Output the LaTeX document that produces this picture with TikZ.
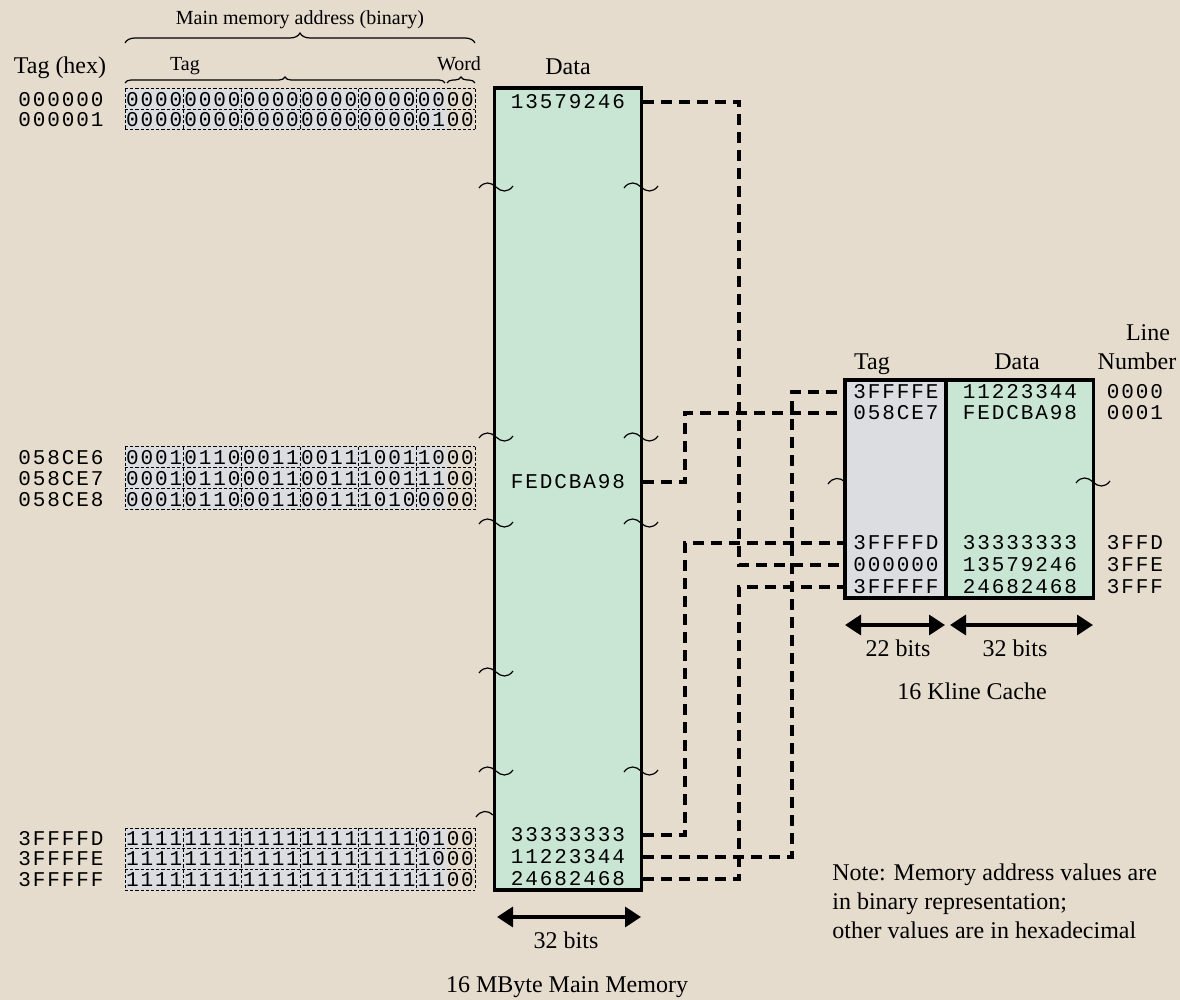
\documentclass[tikz,border=0pt]{standalone}
\usepackage{fontspec}
\setmainfont{Liberation Serif}
\newfontfamily\monof[LetterSpace=9]{Liberation Mono}
\usetikzlibrary{arrows.meta,decorations.pathreplacing,calc}
\definecolor{bgbeige}{RGB}{229,220,206}
\definecolor{memgreen}{RGB}{201,230,213}
\definecolor{taggray}{RGB}{220,221,224}
\newcommand{\tld}[2]{\draw[brk] (#1-17,#2+1) .. controls (#1-12,#2-6) and (#1-5,#2-5) .. (#1,#2) .. controls (#1+5,#2+5) and (#1+12,#2+6) .. (#1+17,#2-1);}
\newcommand{\tldh}[2]{\draw[brk] (#1-17,#2+2) .. controls (#1-12,#2-5) and (#1-5,#2-5) .. (#1,#2);}
\newcommand{\binblock}[3]{% top, row height, rows
  \fill[taggray] (125,#1) rectangle (446.7,#1+#2*#3);
  \foreach \r in {0,...,#3} {\draw[cell] (125,#1+#2*\r) -- (475,#1+#2*\r);}
  \foreach \k in {0,...,6} {\draw[cell] (125+58.333*\k,#1) -- (125+58.333*\k,#1+#2*#3);}
}
\newcommand{\binrow}[4]{% name, y, hex, groups
  \node[mono, anchor=west] (#1-hex) at (18,#2) {#3};
  \foreach \g [count=\i] in {#4} {\node[mono] (#1-\i) at (125+58.333*\i-29.167,#2) {\g};}
}
\begin{document}
\begin{tikzpicture}[x=0.5pt,y=-0.5pt,
  mono/.style={font=\monof\fontsize{10.5pt}{12pt}\selectfont, inner sep=0pt},
  lbl/.style={font=\fontsize{12pt}{14pt}\selectfont, inner sep=0pt, anchor=base},
  slbl/.style={font=\fontsize{10pt}{12pt}\selectfont, inner sep=0pt, anchor=base},
  boxline/.style={draw=black, line width=1.6pt, inner sep=0pt},
  conn/.style={draw=black, line width=2pt, dash pattern=on 5.5pt off 3.5pt},
  cell/.style={draw=black, line width=0.5pt, dash pattern=on 1.6pt off 1pt},
  dimarrow/.style={draw=black, line width=1.7pt, {Triangle[length=8pt,width=10pt]}-{Triangle[length=8pt,width=10pt]}},
  brk/.style={draw=black, line width=0.6pt},
  brc/.style={draw=black, line width=0.6pt, decorate, decoration={brace, amplitude=#1}},
]
\fill[bgbeige] (0,0) rectangle (1180,1000);
\useasboundingbox (0,0) rectangle (1180,1000);

% ---- binary address blocks ----
\binblock{89}{20.5}{2}
\binrow{r1}{99.25}{000000}{0000,0000,0000,0000,0000,0000}
\binrow{r2}{119.75}{000001}{0000,0000,0000,0000,0000,0100}
\binblock{447}{21}{3}
\binrow{r3}{457.5}{058CE6}{0001,0110,0011,0011,1001,1000}
\binrow{r4}{478.5}{058CE7}{0001,0110,0011,0011,1001,1100}
\binrow{r5}{499.5}{058CE8}{0001,0110,0011,0011,1010,0000}
\binblock{828}{20.67}{3}
\binrow{r6}{838.3}{3FFFFD}{1111,1111,1111,1111,1111,0100}
\binrow{r7}{859}{3FFFFE}{1111,1111,1111,1111,1111,1000}
\binrow{r8}{879.7}{3FFFFF}{1111,1111,1111,1111,1111,1100}

% ---- braces and header labels ----
\draw[brc=5pt] (125,43) -- (475,43);
\draw[brc=3pt] (125,83) -- (445,83);
\draw[brc=3pt] (447,83) -- (475,83);
\node[slbl] (hdraddr) at (300,25) {Main memory address (binary)};
\node[slbl] (hdrtag) at (185,71) {Tag};
\node[slbl] (hdrword) at (459,71) {Word};
\node[lbl] (taghex) at (60,74) {Tag (hex)};

% ---- break mark behind cache left edge ----
\tldh{845}{482}

% ---- main memory ----
\node[boxline, fill=memgreen, minimum width=73.5pt, minimum height=401pt] (mem) at (568,489) {};
\node[lbl] (memdata) at (568,75) {Data};
\node[mono] (m1) at (568,102) {13579246};
\node[mono] (m2) at (568,482) {FEDCBA98};
\node[mono] (m3) at (568,835) {33333333};
\node[mono] (m4) at (568,857) {11223344};
\node[mono] (m5) at (568,879) {24682468};

\tld{496}{187} \tld{641}{187}
\tld{496}{437} \tld{641}{437}
\tld{496}{523} \tld{641}{523}
\tld{496}{672}
\tld{496}{771} \tld{641}{771}
\tldh{493}{815}

\coordinate (ma1) at (497,917);
\coordinate (ma2) at (641,917);
\draw[dimarrow] (ma1) -- (ma2);
\node[lbl] (mbits) at (566,948) {32 bits};
\node[lbl] (mcap) at (567,992) {16 MByte Main Memory};

% ---- cache ----
\node[boxline, fill=taggray, minimum width=50.5pt, minimum height=109pt] (ctag) at (895.5,489) {};
\node[boxline, fill=memgreen, minimum width=73.75pt, minimum height=109pt] (cdata) at (1019.75,489) {};
\tld{1093}{482}
\node[lbl] (ctaghdr) at (872,370) {Tag};
\node[lbl] (cdatahdr) at (1017,370) {Data};
\node[lbl] (clinehdr) at (1148,341) {Line};
\node[lbl] (cnumhdr) at (1137,370) {Number};

\node[mono] (ct1) at (896,392) {3FFFFE};
\node[mono] (ct2) at (896,413) {058CE7};
\node[mono] (ct3) at (896,543) {3FFFFD};
\node[mono] (ct4) at (896,565) {000000};
\node[mono] (ct5) at (896,587) {3FFFFF};
\node[mono] (cd1) at (1020,392) {11223344};
\node[mono] (cd2) at (1020,413) {FEDCBA98};
\node[mono] (cd3) at (1020,543) {33333333};
\node[mono] (cd4) at (1020,565) {13579246};
\node[mono] (cd5) at (1020,587) {24682468};
\node[mono] (ln1) at (1135,392) {0000};
\node[mono] (ln2) at (1135,413) {0001};
\node[mono] (ln3) at (1135,543) {3FFD};
\node[mono] (ln4) at (1135,565) {3FFE};
\node[mono] (ln5) at (1135,587) {3FFF};

\coordinate (ca1) at (845,625);
\coordinate (ca2) at (945,625);
\coordinate (ca3) at (950,625);
\coordinate (ca4) at (1093,625);
\draw[dimarrow] (ca1) -- (ca2);
\draw[dimarrow] (ca3) -- (ca4);
\node[lbl] (cbits1) at (898,657) {22 bits};
\node[lbl] (cbits2) at (1015,657) {32 bits};
\node[lbl] (ccap) at (972,699) {16 Kline Cache};

% ---- connectors ----
\coordinate (busA) at (685,0);
\coordinate (busB) at (739,0);
\coordinate (busC) at (792,0);
\draw[conn] (mem.east |- m1) -- (busB |- m1) -- (busB |- ct4) -- (ctag.west |- ct4);
\draw[conn] (mem.east |- m2) -- (busA |- m2) -- (busA |- ct2) -- (ctag.west |- ct2);
\draw[conn] (mem.east |- m3) -- (busA |- m3) -- (busA |- ct3) -- (ctag.west |- ct3);
\draw[conn] (mem.east |- m4) -- (busC |- m4) -- (busC |- ct1) -- (ctag.west |- ct1);
\draw[conn] (mem.east |- m5) -- (busB |- m5) -- (busB |- ct5) -- (ctag.west |- ct5);

% ---- note ----
\node[lbl, anchor=base west] (note1) at (832,880) {Note: Memory address values are};
\node[lbl, anchor=base west] (note2) at (832,909) {in binary representation;};
\node[lbl, anchor=base west] (note3) at (832,938) {other values are in hexadecimal};
\end{tikzpicture}
\end{document}
